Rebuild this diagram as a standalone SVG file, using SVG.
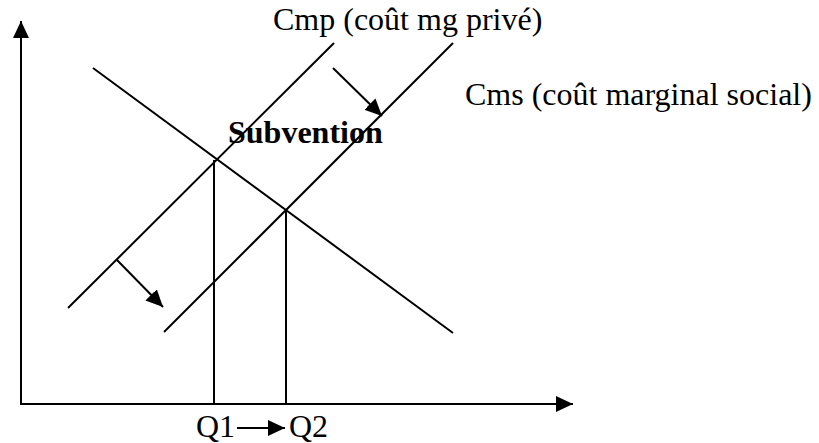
<svg xmlns="http://www.w3.org/2000/svg" width="819" height="443" viewBox="0 0 819 443">
<style>
.ln{stroke:#000;stroke-width:2;fill:none}
.ar{stroke:#000;stroke-width:2;fill:none;marker-end:url(#ah)}
.t{font-family:"Liberation Serif","Times New Roman",serif;font-size:32px;fill:#000}
.b{font-weight:bold}
</style>
<defs>
<marker id="ah" markerUnits="userSpaceOnUse" markerWidth="20" markerHeight="18" refX="17" refY="8" orient="auto">
<path d="M0,0 L17,8 L0,16 Z" fill="#000"/>
</marker>
</defs>
<rect width="819" height="443" fill="#fff"/>
<g id="connectors">
<line class="ar" x1="21" y1="405" x2="21" y2="21"/>
<line class="ar" x1="21" y1="404" x2="573" y2="404"/>
<line class="ar" x1="237" y1="428" x2="285" y2="428"/>
<line class="ar" x1="333" y1="68" x2="382" y2="116"/>
<line class="ar" x1="117" y1="260" x2="163" y2="307"/>
</g>
<g id="demand"><line class="ln" x1="93" y1="68" x2="453" y2="333"/></g>
<g id="cmp"><line class="ln" x1="68" y1="308" x2="334" y2="43"/></g>
<g id="cms"><line class="ln" x1="164" y1="332" x2="453" y2="43"/></g>
<g id="q1line"><line class="ln" x1="214" y1="160" x2="214" y2="404"/></g>
<g id="q2line"><line class="ln" x1="286" y1="211" x2="286" y2="404"/></g>
<g id="labels">
<text class="t" x="273" y="30">Cmp (coût mg privé)</text>
<text class="t" x="465" y="105">Cms (coût marginal social)</text>
<text class="t b" x="228" y="143">Subvention</text>
<text class="t" x="196" y="437">Q1</text>
<text class="t" x="289" y="437">Q2</text>
</g>
</svg>
